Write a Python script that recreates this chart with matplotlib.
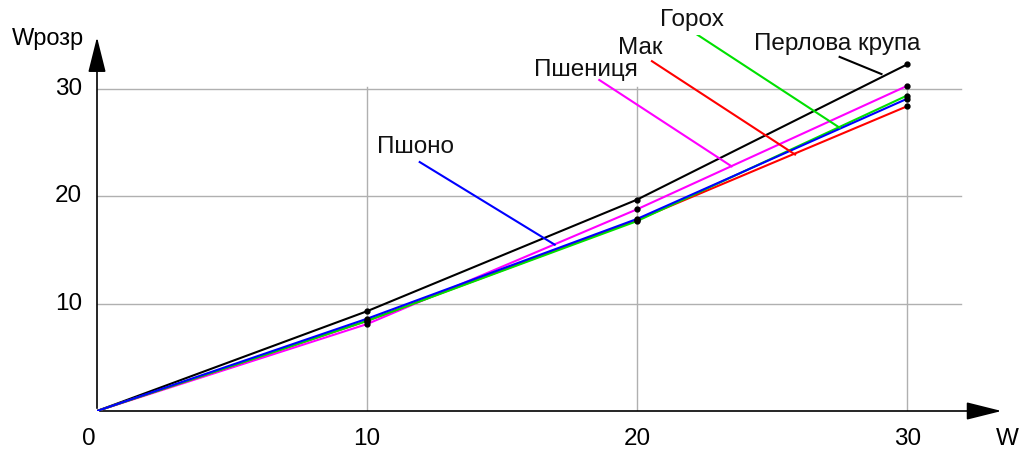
import matplotlib.pyplot as plt

plt.rcParams['font.family'] = ['Liberation Sans', 'DejaVu Sans']

# дані
w = [0, 10, 20, 30]
perlova = [0, 9.3, 19.7, 32.3]
pshenytsia = [0, 8.1, 18.8, 30.3]
mak = [0, 8.4, 17.8, 28.4]
horokh = [0, 8.4, 17.7, 29.4]
pshono = [0, 8.6, 17.9, 29.1]

names = ['Перлова крупа', 'Пшениця', 'Мак', 'Горох', 'Пшоно']
colors = ['black', '#ff00ff', '#ff0000', '#00e000', '#0000ff']
series = [perlova, pshenytsia, mak, horokh, pshono]

# підписи з виносками (у координатах даних)
label_text_pos = [(24.33, 33.6), (16.2, 31.2), (19.3, 33.3), (20.85, 35.9), (10.37, 24.0)]
leader_start = [(27.5, 33.0), (18.6, 30.85), (20.55, 32.6), (22.15, 35.2), (11.95, 23.2)]
leader_end = [(29.05, 31.4), (23.5, 22.8), (25.85, 23.9), (27.5, 26.4), (16.95, 15.5)]

fig = plt.figure(figsize=(10.2, 4.5), dpi=100)
ax = fig.add_axes([97 / 1020, 39 / 450, 906 / 1020, 376 / 450])
ax.set_xlim(0, 33.55)
ax.set_ylim(0, 35.04)
ax.axis('off')

# сітка
for v in [10, 20, 30]:
    ax.plot([0, 32], [v, v], color='#b0b0b0', lw=1, zorder=1)
    ax.plot([v, v], [0, 30.2], color='#b0b0b0', lw=1, zorder=1)

# осі зі стрілками
arrow = dict(arrowstyle='-|>,head_length=2.2,head_width=0.55', color='black', lw=1.2)
ax.annotate('', xy=(33.6, 0), xytext=(0, 0), arrowprops=arrow, annotation_clip=False)
ax.annotate('', xy=(0, 35.1), xytext=(0, 0), arrowprops=arrow, annotation_clip=False)

for s, c in zip(series, colors):
    ax.plot(w, s, color=c, lw=1.5, zorder=3)
    ax.plot(w[1:], s[1:], 'o', color='black', ms=3.5, zorder=4)

for name, c, tp, a, b in zip(names, colors, label_text_pos, leader_start, leader_end):
    ax.plot([a[0], b[0]], [a[1], b[1]], color=c, lw=1.5, zorder=3)
    ax.text(tp[0], tp[1], name, fontsize=17.5, ha='left', va='baseline', color='#111111')

# підписи поділок
for v in [0, 10, 20, 30]:
    xv = v - 0.3 if v == 0 else v
    ax.text(xv, -1.55, str(v), fontsize=17.5, ha='center', va='top', clip_on=False)
for v in [10, 20, 30]:
    ax.text(-0.55, v, str(v), fontsize=17.5, ha='right', va='center', clip_on=False)

ax.text(33.3, -1.55, 'W', fontsize=17.5, ha='left', va='top', clip_on=False)
ax.text(-3.15, 34.1, 'Wрозр', fontsize=17, ha='left', va='baseline', clip_on=False)

fig.savefig('out.png', dpi=100)
